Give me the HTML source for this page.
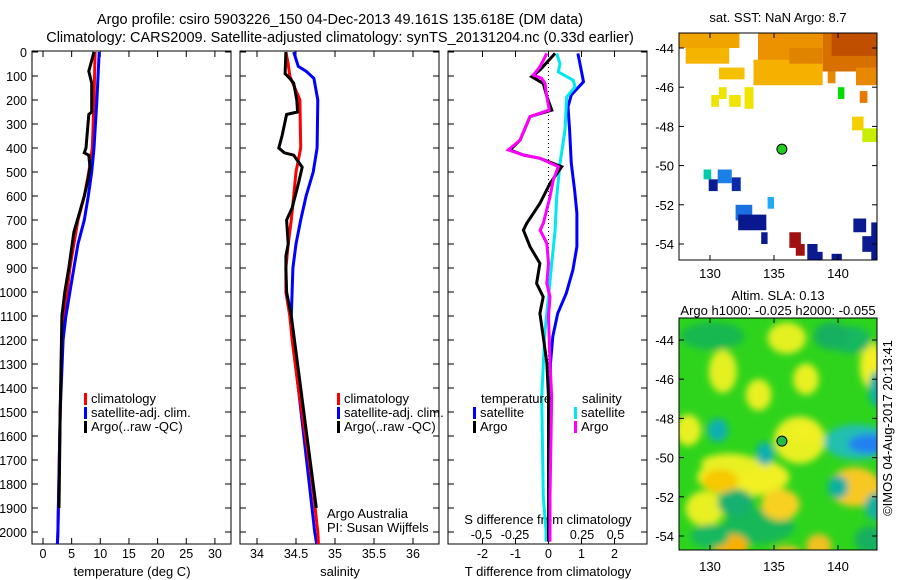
<!DOCTYPE html>
<html><head><meta charset="utf-8"><style>
html,body{margin:0;padding:0;background:#fff;width:900px;height:580px;overflow:hidden}
svg{font-family:"Liberation Sans",sans-serif;font-size:13px}
.tk{font-size:12.5px}
.ttl{font-size:14.5px}
.lg{font-size:13px}
</style></head><body>
<svg id="chart" width="900" height="580" viewBox="0 0 900 580">
<defs>
<clipPath id="c1"><rect x="32" y="51" width="199" height="493"/></clipPath>
<clipPath id="c2"><rect x="240" y="51" width="199" height="493"/></clipPath>
<clipPath id="c3"><rect x="448" y="51" width="199" height="493"/></clipPath>
<clipPath id="cm1"><rect x="679" y="33" width="198" height="227"/></clipPath>
<clipPath id="cm2"><rect x="679" y="318" width="198" height="232"/></clipPath>
<filter id="blur" x="-50%" y="-50%" width="200%" height="200%"><feGaussianBlur stdDeviation="3.5"/></filter>
</defs>
<text class="ttl" x="340" y="24" text-anchor="middle">Argo profile: csiro 5903226_150 04-Dec-2013 49.161S 135.618E (DM data)</text>
<text class="ttl" x="340" y="42" text-anchor="middle">Climatology: CARS2009. Satellite-adjusted climatology: synTS_20131204.nc (0.33d earlier)</text>
<g id="g"></g>
</svg>
<script>
// ---- data ----
const tClimDepth=[0,200,400,500,600,700,800,900,1000,1100,1200,1500,2000,2060];
const tClim=[9.1,8.9,8.6,8.0,7.2,6.1,5.4,4.7,4.2,3.7,3.3,3.0,2.6,2.5];
const tSatDepth=[0,200,400,500,600,700,800,900,1000,1100,1200,1500,2000,2060];
const tSat=[9.8,9.4,8.9,8.5,7.9,7.2,6.1,5.4,4.7,4.0,3.5,3.0,2.6,2.5];
const tArgoDepth=[0,80,130,250,260,400,420,430,480,550,600,700,750,800,900,1000,1100,1500,1900];
const tArgo=[8.9,8.0,8.5,8.5,8.0,7.5,7.2,8.0,8.2,7.7,7.2,6.0,5.4,5.1,4.5,3.8,3.3,3.0,2.8];
const sClimDepth=[0,50,100,200,400,500,600,700,800,900,1000,1100,1200,1400,1600,1800,2000,2060];
const sClim=[34.37,34.4,34.42,34.55,34.56,34.5,34.47,34.44,34.4,34.37,34.37,34.42,34.45,34.53,34.62,34.71,34.78,34.79];
const sSatDepth=[0,60,80,110,200,400,500,600,700,800,900,1000,1100,1200,1400,1600,1800,2000,2060];
const sSat=[34.47,34.53,34.63,34.73,34.78,34.77,34.72,34.63,34.56,34.5,34.46,34.45,34.44,34.46,34.53,34.6,34.67,34.74,34.77];
const sArgoDepth=[0,90,110,130,200,250,260,350,400,420,430,480,550,650,700,800,850,900,1000,1100,1400,1600,1800,1900];
const sArgo=[34.37,34.36,34.42,34.47,34.51,34.52,34.38,34.32,34.28,34.35,34.47,34.58,34.53,34.45,34.38,34.4,34.37,34.37,34.38,34.44,34.56,34.64,34.72,34.76];
const dTSatDepth=[6,75,124,179,228,325,464,575,672,811,908,1005,1089,1186,1297,1992,2040];
const dTSat=[0.89,0.99,1.06,0.69,0.59,0.64,0.69,0.79,0.86,0.86,0.74,0.54,0.28,0.13,0.06,0.03,0.03];
const dSSatDepth=[6,49,83,118,146,187,326,465,604,743,882,1021,1160,1437,1854,1993,2040];
const dSSat=[0.061,0.086,0.073,0.185,0.198,0.136,0.123,0.086,0.061,0.049,0.024,0,-0.026,-0.051,-0.039,-0.019,-0.019];
const dSArgoDepth=[6,61,96,110,131,186,242,269,367,408,429,443,478,533,603,714,742,797,881,964,1020,1103,1297,1436,1853,1992,2040];
const dSArgo=[-0.013,-0.063,-0.113,-0.051,-0.026,-0.013,0.006,-0.138,-0.213,-0.3,-0.188,-0.063,0.073,0.036,0.011,-0.039,-0.063,-0.013,0,-0.013,0.011,0,0.011,0.024,0.011,0.011,0.011];
const dTArgoDepth=[6,75,103,131,186,242,269,367,408,429,443,478,547,631,714,742,811,881,964,1020,1089,1186,1297,1436,1992,2040];
const dTArgo=[0.2,-0.26,-0.51,-0.16,-0.05,0.1,-0.56,-0.86,-1.17,-0.76,-0.26,0.4,0.05,-0.26,-0.66,-0.76,-0.56,-0.26,-0.36,-0.16,-0.26,-0.16,-0.05,0,0,0];
const depthTicks=[0,100,200,300,400,500,600,700,800,900,1000,1100,1200,1300,1400,1500,1600,1700,1800,1900,2000];
const tTicks=[0,5,10,15,20,25,30];
const sTicks=[34,34.5,35,35.5,36];
const sTickLabels=["34","34.5","35","35.5","36"];
const dTTicks=[-2,-1,0,1,2];
const dSTicks=[-0.5,-0.25,0,0.25,0.5];
const lonTicks=[130,135,140];
const latTicks=[-44,-46,-48,-50,-52,-54];
// SST patches
const sstLon0=[127.6,128.1,133.75,138.8,133.4,130.7,141.4,130.1,131.5,132.7,130.7,140,141.7,139.2,141.1,141.9,129.5,130.6,129.9,131.7,134.5,132.0,132.2,134.0,136.2,136.7,137.6,138.2,139.5,141.2,142.6,141.9,136.2,139.5];
const sstLon1=[132.3,131.5,138.8,143.1,138.8,132.7,143.1,130.7,132.4,133.4,131.3,140.5,142.3,139.8,142.0,143.1,130.1,131.7,130.6,132.4,135.0,133.3,134.4,134.5,137.1,137.4,138.4,138.8,140.3,142.2,143.1,142.7,138.8,143.1];
const sstLat0=[-43.2,-44.0,-43.2,-43.2,-44.6,-45.0,-45.0,-46.4,-46.4,-46.0,-46.0,-46.0,-46.2,-45.2,-47.5,-48.1,-50.2,-50.2,-50.7,-50.6,-51.6,-52.0,-52.5,-53.4,-53.4,-54.0,-54.0,-54.4,-54.5,-52.7,-52.9,-53.6,-44.0,-43.2];
const sstLat1=[-44.0,-44.8,-44.8,-45.2,-45.9,-45.6,-45.9,-47.0,-47.0,-47.1,-46.6,-46.6,-46.8,-45.8,-48.2,-48.8,-50.7,-50.9,-51.3,-51.3,-52.2,-52.8,-53.3,-54.0,-54.2,-54.6,-54.8,-54.8,-54.8,-53.4,-54.8,-54.4,-44.8,-44.4];
const sstCol=["#f0a400","#f5b400","#ec9200","#d87000","#f5b000","#f5c000","#e88800","#eee400","#eee400","#eee400","#eee400","#00dd00","#e87800","#e88800","#f5d000","#c8ee00","#00ccaa","#1a80e8","#0a1a90","#0a2aa8","#22aaf5","#1a70e0","#0a1890","#0a1a90","#a01010","#a01010","#0a1a90","#0a1a90","#0a1a90","#0a1a90","#0a1a90","#0a1a90","#e08400","#c05000"];
// SLA blobs
const slaLon=[130.2,131,136,133.8,132.6,129.6,131.6,137,142.6,141.3,143,141.5,142.6,134.3,140,130.6,132,143,130,137.5,133.8,141,138.5,136,128.3,139.5,131.5,135.5,142.5,130.8,137.5];
const slaLat=[-43.8,-45.6,-43.9,-53.5,-51,-52.6,-54.5,-49.1,-45.3,-51.5,-52.5,-49.2,-49.3,-49.8,-51.5,-48.6,-52.3,-46.5,-54,-46,-46.8,-44,-54.5,-55,-48.6,-43.8,-50.3,-52.4,-54.2,-51.2,-48.7];
const slaRLon=[2.5,1.1,1.5,2.8,3.6,1.5,1.4,2.0,0.9,2.0,0.9,2.6,1.8,0.7,0.8,0.8,1.4,0.6,1.5,1.0,1.0,1.6,1.0,1.2,1.0,1.4,2.2,1.5,1.2,1.4,1.2];
const slaRLat=[0.7,1.1,0.8,0.9,1.0,0.9,0.6,1.2,1.2,1.0,0.7,0.9,0.5,0.6,0.6,0.6,0.7,0.9,0.6,0.8,0.8,0.7,0.6,0.5,0.8,0.7,0.5,0.8,0.7,0.6,0.6];
const slaCol=["#18b850","#e4f020","#e4f020","#18b858","#f0f020","#e8f020","#f8b000","#e8f020","#f0f020","#f8c820","#18b0a0","#20c0b0","#2080f0","#10b0b0","#10b0a0","#10b0b0","#18b070","#10b0a0","#18b860","#e8f020","#e8f020","#18b860","#f0c020","#f0c020","#e8f020","#18b060","#e8f020","#f8d020","#18b060","#f8c800","#f0f020"];

const NS="http://www.w3.org/2000/svg";
const G=document.getElementById('g');
function mk(tag,at,parent,txt){const e=document.createElementNS(NS,tag);for(const k in at)e.setAttribute(k,at[k]);if(txt!==undefined)e.textContent=txt;(parent||G).appendChild(e);return e;}
const Y0=52,YS=0.24;
const yD=d=>Y0+d*YS;
const xT=v=>43+v*5.73;
const xS=v=>257+(v-34)*78;
const xDT=v=>548.5+v*33;
const xDS=v=>548.5+v*134;
function line(xs,ds,fx,col,clip,name,w){
  const pts=xs.map((v,i)=>fx(v).toFixed(1)+","+yD(ds[i]).toFixed(1)).join(" ");
  const p=mk('polyline',{points:pts,fill:'none',stroke:col,'stroke-width':w||3,'clip-path':'url(#'+clip+')'});
  
  
}
function panel(x0,name){
  const r=mk('rect',{x:x0,y:51,width:199,height:493,fill:'none',stroke:'#000','stroke-width':1});
  
  
  depthTicks.forEach(d=>{mk('line',{x1:x0,x2:x0+6,y1:yD(d),y2:yD(d),stroke:'#000'});mk('line',{x1:x0+199-6,x2:x0+199,y1:yD(d),y2:yD(d),stroke:'#000'});});
}
panel(32,'temperature-panel');panel(240,'salinity-panel');panel(448,'difference-panel');
depthTicks.forEach(d=>{const t=mk('text',{class:'tk',x:27,y:yD(d)+5,'text-anchor':'end'},G,String(d));
  
  });
function xt(ticks,fx,labels,y,ytop,ybot){ticks.forEach((v,i)=>{const x=fx(v);
  mk('line',{x1:x,x2:x,y1:ytop,y2:ytop+6,stroke:'#000'});mk('line',{x1:x,x2:x,y1:ybot-6,y2:ybot,stroke:'#000'});
  if(labels){const t=mk('text',{class:'tk',x:x,y:y,'text-anchor':'middle'},G,labels[i]);
  
  }});}
xt(tTicks,xT,tTicks.map(String),558,51,544);
xt(sTicks,xS,sTickLabels,558,51,544);
xt(dTTicks,xDT,dTTicks.map(String),558,51,544);
dSTicks.forEach(v=>{const t=mk('text',{class:'tk',x:xDS(v),y:539,'text-anchor':'middle'},G,String(v));
  
  });
mk('line',{x1:xDT(0),x2:xDT(0),y1:51,y2:544,stroke:'#000','stroke-dasharray':'1,3'});
[['temperature (deg C)',132],['salinity',340],['T difference from climatology',548]].forEach(a=>{const t=mk('text',{class:'lg',x:a[1],y:576,'text-anchor':'middle'},G,a[0]);
  
  });
{const t=mk('text',{class:'lg',x:548,y:524,'text-anchor':'middle'},G,'S difference from climatology');

}
// series
line(tClim,tClimDepth,xT,'#ff0000','c1','temp-climatology-line');
line(tSat,tSatDepth,xT,'#0000ff','c1','temp-satellite-line');
line(tArgo,tArgoDepth,xT,'#000000','c1','temp-argo-line');
line(sSat,sSatDepth,xS,'#0000ff','c2','sal-satellite-line');
line(sClim,sClimDepth,xS,'#ff0000','c2','sal-climatology-line');
line(sArgo,sArgoDepth,xS,'#000000','c2','sal-argo-line');
line(dTSat,dTSatDepth,xDT,'#0000ff','c3','dt-satellite-line');
line(dSSat,dSSatDepth,xDS,'#00e8f0','c3','ds-satellite-line');
line(dTArgo,dTArgoDepth,xDT,'#000000','c3','dt-argo-line');
line(dSArgo,dSArgoDepth,xDS,'#ff00ff','c3','ds-argo-line');
// legends
function leg(x,y,col,label){mk('rect',{x:x,y:y-10,width:3,height:12,fill:col});
  const t=mk('text',{class:'lg',x:x+7,y:y},G,label);
  
  }
[[84,'#ff0000','climatology'],[84,'#0000ff','satellite-adj. clim.'],[84,'#000','Argo(..raw -QC)']].forEach((a,i)=>leg(a[0],403+i*14,a[1],a[2]));
[[337,'#ff0000','climatology'],[337,'#0000ff','satellite-adj. clim.'],[337,'#000','Argo(..raw -QC)']].forEach((a,i)=>leg(a[0],403+i*14,a[1],a[2]));
mk('text',{class:'lg',x:481,y:403},G,'temperature');mk('text',{class:'lg',x:582,y:403},G,'salinity');
leg(473,417,'#0000ff','satellite');leg(473,431,'#000','Argo');
leg(574,417,'#00e8f0','satellite');leg(574,431,'#ff00ff','Argo');
mk('text',{class:'lg',x:327,y:518},G,'Argo Australia');mk('text',{class:'lg',x:327,y:532},G,'PI: Susan Wijffels');
// maps
const mx=lon=>710+(lon-130)*12.8;
function map(yLat0,clip,name){
  const my=lat=>yLat0+(-44-lat)*19.6;
  const gm=mk('g',{'clip-path':'url(#'+clip+')'});
  
  
  return {gm,my};
}
{const {gm,my}=map(48,'cm1','sst-map');
 sstLon0.forEach((l,i)=>{const r=mk('rect',{x:mx(l),y:my(sstLat0[i]),width:mx(sstLon1[i])-mx(l),height:my(sstLat1[i])-my(sstLat0[i]),fill:sstCol[i]},gm);
   
   });
 mk('circle',{cx:mx(135.618),cy:my(-49.161),r:5,fill:'#22cc22',stroke:'#000'});
 mk('rect',{x:679,y:33,width:198,height:227,fill:'none',stroke:'#000'});
 lonTicks.forEach(l=>{mk('line',{x1:mx(l),x2:mx(l),y1:33,y2:38,stroke:'#000'});mk('line',{x1:mx(l),x2:mx(l),y1:255,y2:260,stroke:'#000'});mk('text',{class:'lg',x:mx(l),y:278,'text-anchor':'middle'},G,String(l));});
 latTicks.forEach(l=>{mk('line',{x1:679,x2:684,y1:my(l),y2:my(l),stroke:'#000'});mk('line',{x1:872,x2:877,y1:my(l),y2:my(l),stroke:'#000'});mk('text',{class:'lg',x:674,y:my(l)+5,'text-anchor':'end'},G,String(l));});
 mk('text',{class:'lg',x:778,y:22,'text-anchor':'middle'},G,'sat. SST: NaN Argo: 8.7');
}
{const {gm,my}=map(340,'cm2','sla-map');
 mk('rect',{x:679,y:318,width:198,height:232,fill:'#2ed41c'},gm);
 const gb=mk('g',{filter:'url(#blur)'},gm);
 slaLon.forEach((l,i)=>{const e=mk('ellipse',{cx:mx(l),cy:my(slaLat[i]),rx:slaRLon[i]*12.8,ry:slaRLat[i]*19.6,fill:slaCol[i]},gb);
   
   });
 mk('circle',{cx:mx(135.618),cy:my(-49.161),r:5,fill:'#22bb44',stroke:'#000'});
 mk('rect',{x:679,y:318,width:198,height:232,fill:'none',stroke:'#000'});
 lonTicks.forEach(l=>{mk('line',{x1:mx(l),x2:mx(l),y1:318,y2:323,stroke:'#000'});mk('line',{x1:mx(l),x2:mx(l),y1:545,y2:550,stroke:'#000'});mk('text',{class:'lg',x:mx(l),y:571,'text-anchor':'middle'},G,String(l));});
 latTicks.forEach(l=>{mk('line',{x1:679,x2:684,y1:my(l),y2:my(l),stroke:'#000'});mk('line',{x1:872,x2:877,y1:my(l),y2:my(l),stroke:'#000'});mk('text',{class:'lg',x:674,y:my(l)+5,'text-anchor':'end'},G,String(l));});
 mk('text',{class:'lg',x:778,y:300,'text-anchor':'middle'},G,'Altim. SLA: 0.13');
 mk('text',{class:'lg',x:778,y:315,'text-anchor':'middle'},G,'Argo h1000: -0.025 h2000: -0.055');
}
{const t=mk('text',{class:'lg',x:892,y:428,'text-anchor':'middle',transform:'rotate(-90 892 428)'},G,'©IMOS 04-Aug-2017 20:13:41');

}
</script>
</body></html>
